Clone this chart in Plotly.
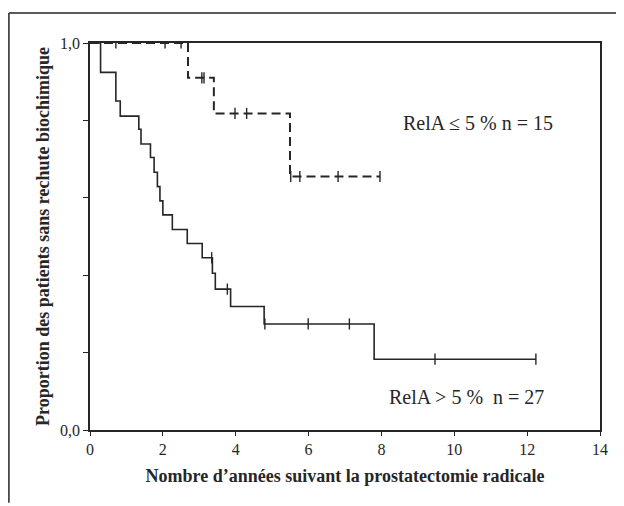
import plotly.graph_objects as go

# RelA <= 5 % (n = 15), dashed curve
low_times = [0, 2.69, 3.40, 5.49, 7.96]
low_surv = [1.0, 0.910, 0.818, 0.655, 0.655]
low_censor = [0.71, 2.06, 2.50, 3.07, 3.13, 3.98, 4.30, 5.51, 5.76, 6.81, 7.96]

# RelA > 5 % (n = 27), solid curve
high_times = [0, 0.29, 0.71, 0.83, 1.34, 1.40, 1.66, 1.76, 1.85, 1.92, 2.00,
              2.26, 2.67, 3.08, 3.36, 3.44, 3.86, 4.78, 7.80, 12.24]
high_surv = [1.0, 0.924, 0.850, 0.811, 0.777, 0.739, 0.704, 0.666, 0.629, 0.592,
             0.556, 0.518, 0.482, 0.445, 0.405, 0.364, 0.319, 0.274, 0.183, 0.183]
high_censor = [3.34, 3.77, 4.80, 5.99, 7.12, 9.47, 12.24]

x_ticks = [0, 2, 4, 6, 8, 10, 12, 14]
y_ticks = [0, 0.2, 0.4, 0.6, 0.8, 1.0]
y_ticklabels = ["0,0", "", "", "", "", "1,0"]


def surv_at(times, surv, t):
    s = surv[0]
    for ti, si in zip(times, surv):
        if ti <= t:
            s = si
    return s


INK = "#262626"
fig = go.Figure()

fig.add_trace(go.Scatter(x=high_times, y=high_surv, mode="lines", line_shape="hv",
                         line=dict(color=INK, width=1.6), showlegend=False, hoverinfo="skip"))
fig.add_trace(go.Scatter(x=low_times, y=low_surv, mode="lines", line_shape="hv",
                         line=dict(color=INK, width=2, dash="9px,5px"), showlegend=False,
                         hoverinfo="skip"))
fig.add_trace(go.Scatter(x=high_censor, y=[surv_at(high_times, high_surv, c) for c in high_censor],
                         mode="markers",
                         marker=dict(symbol="line-ns", size=8, line=dict(color=INK, width=1.4)),
                         showlegend=False, hoverinfo="skip"))
fig.add_trace(go.Scatter(x=low_censor, y=[surv_at(low_times, low_surv, c) for c in low_censor],
                         mode="markers",
                         marker=dict(symbol="line-ns", size=8, line=dict(color=INK, width=1.4)),
                         showlegend=False, hoverinfo="skip"))

font_family = "Liberation Serif, DejaVu Serif, serif"

fig.update_layout(
    width=616, height=498,
    margin=dict(l=82, r=24, t=35, b=76),
    paper_bgcolor="white", plot_bgcolor="white",
    font=dict(family=font_family, color=INK, size=14),
    xaxis=dict(range=[0, 14], tickvals=x_ticks, ticktext=[str(v) for v in x_ticks],
               showgrid=False, zeroline=False, showline=True, linecolor=INK, linewidth=1.6,
               mirror=True, ticks="outside", ticklen=4, tickwidth=1.3, tickcolor=INK,
               tickfont=dict(size=16, family=font_family),
               title=dict(text="<b>Nombre d\u2019années suivant la prostatectomie radicale</b>",
                          font=dict(size=18, family=font_family), standoff=12)),
    yaxis=dict(range=[0, 1], tickvals=y_ticks, ticktext=y_ticklabels,
               showgrid=False, zeroline=False, showline=True, linecolor=INK, linewidth=1.6,
               mirror=True, ticks="outside", ticklen=5, tickwidth=1.3, tickcolor=INK,
               tickfont=dict(size=16, family=font_family),
               title=dict(text="<b>Proportion des patients sans rechute biochimique</b>",
                          font=dict(size=18, family=font_family), standoff=6)),
    annotations=[
        dict(text="RelA \u2264 5 % n = 15", x=0.761, y=0.793, xref="paper", yref="paper",
             xanchor="center", yanchor="middle",
             showarrow=False, font=dict(size=20, family=font_family, color=INK)),
        dict(text="RelA > 5 %  n = 27", x=0.739, y=0.085, xref="paper", yref="paper",
             xanchor="center", yanchor="middle",
             showarrow=False, font=dict(size=20, family=font_family, color=INK)),
    ],
    shapes=[
        dict(type="line", xref="paper", yref="paper", x0=-0.159, x1=1.1, y0=1.0775, y1=1.0775,
             line=dict(color=INK, width=1.5)),
        dict(type="line", xref="paper", yref="paper", x0=-0.159, x1=-0.159, y0=1.0775, y1=-0.188,
             line=dict(color=INK, width=1.5)),
    ],
)

fig.write_html("out.html")
